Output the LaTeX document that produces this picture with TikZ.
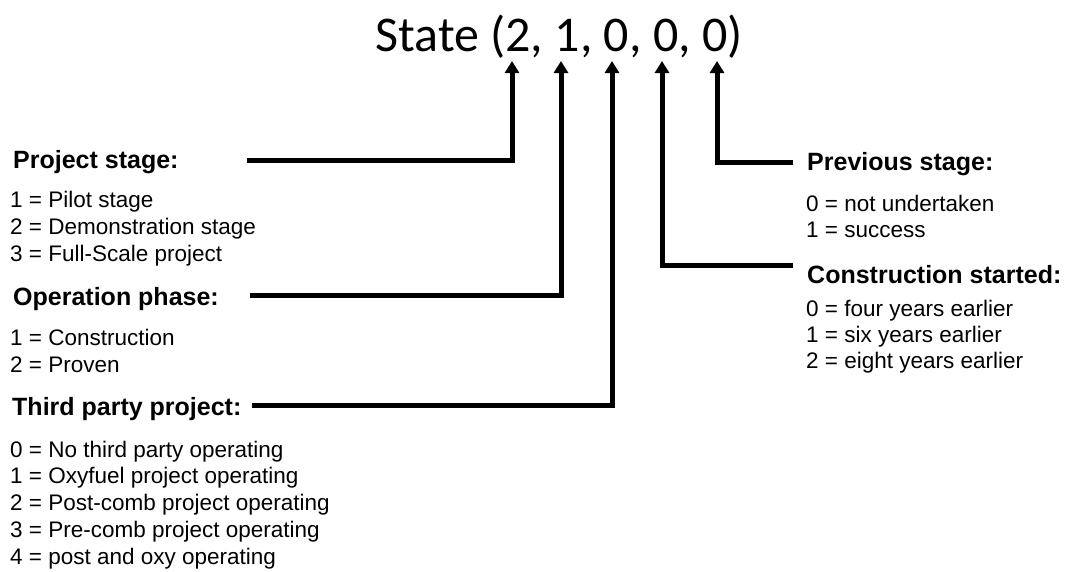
\documentclass[tikz,border=0pt]{standalone}
\usepackage{fontspec}
\setmainfont{Liberation Sans}
\newfontfamily\titlefont{Carlito}
\usetikzlibrary{arrows.meta}

\tikzset{
  heading/.style={anchor=base west, inner sep=0pt, font=\fontsize{25}{30}\selectfont\bfseries},
  item/.style={anchor=base west, inner sep=0pt, font=\fontsize{22.5}{27}\selectfont},
  title/.style={anchor=base, inner sep=0pt, font=\titlefont\fontsize{50}{60}\selectfont},
  pointer/.style={line width=5pt, line join=miter, -{Triangle[width=14pt,length=12pt]}},
}

\begin{document}
\begin{tikzpicture}[x=1pt, y=-1pt]
\useasboundingbox (0,0) rectangle (1073,571);

% state vector
\node[title] (state) at (559,51) {State (2, 1, 0, 0, 0)};

% arrow tips under each component of the state
\coordinate (t1) at (512,61);
\coordinate (t2) at (561,61);
\coordinate (t3) at (612,61);
\coordinate (t4) at (662,61);
\coordinate (t5) at (717,61);

% left column
\node[heading] (hps) at (13,168) {Project stage:};
\foreach \t [count=\i] in {1 = Pilot stage, 2 = Demonstration stage, 3 = Full-Scale project}
  \node[item] (ps\i) at (10,{207+27.4*(\i-1)}) {\t};

\node[heading] (hop) at (13,305) {Operation phase:};
\foreach \t [count=\i] in {1 = Construction, 2 = Proven}
  \node[item] (op\i) at (10,{345+27*(\i-1)}) {\t};

\node[heading] (htp) at (12,415) {Third party project:};
\foreach \t [count=\i] in {0 = No third party operating, 1 = Oxyfuel project operating,
    2 = Post-comb project operating, 3 = Pre-comb project operating, 4 = post and oxy operating}
  \node[item] (tp\i) at (10,{457+26.8*(\i-1)}) {\t};

% right column
\node[heading] (hpv) at (807,170) {Previous stage:};
\foreach \t [count=\i] in {0 = not undertaken, 1 = success}
  \node[item] (pv\i) at (806,{211+26*(\i-1)}) {\t};

\node[heading] (hcs) at (807,283) {Construction started:};
\foreach \t [count=\i] in {0 = four years earlier, 1 = six years earlier, 2 = eight years earlier}
  \node[item] (cs\i) at (806,{316+26*(\i-1)}) {\t};

% connector ends beside the headings
\coordinate (c1) at (247,160);
\coordinate (c2) at (250,295);
\coordinate (c3) at (252,405);
\coordinate (c4) at (793,265);
\coordinate (c5) at (793,162);

% connectors
\draw[pointer] (c1) -| (t1);
\draw[pointer] (c2) -| (t2);
\draw[pointer] (c3) -| (t3);
\draw[pointer] (c4) -| (t4);
\draw[pointer] (c5) -| (t5);
\end{tikzpicture}
\end{document}
